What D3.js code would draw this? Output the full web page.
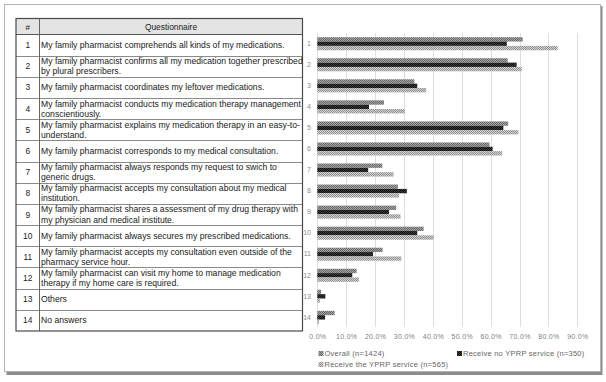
<!DOCTYPE html>
<html><head><meta charset="utf-8">
<script src="https://cdn.jsdelivr.net/npm/d3@7/dist/d3.min.js"></script>
<style>
html,body{margin:0;padding:0;background:#fff;}
svg{display:block;}
</style></head>
<body>
<script>
// ---- data ----
const categories = ["1","2","3","4","5","6","7","8","9","10","11","12","13","14"];
const questions = [
  "My family pharmacist comprehends all kinds of my medications.",
  "My family pharmacist confirms all my medication together prescribed\nby plural prescribers.",
  "My family pharmacist coordinates my leftover medications.",
  "My family pharmacist conducts my medication therapy management\nconscientiously.",
  "My family pharmacist explains my medication therapy in an easy-to-\nunderstand.",
  "My family pharmacist corresponds to my medical consultation.",
  "My family pharmacist always responds my request to swich to\ngeneric drugs.",
  "My family pharmacist accepts my consultation about my medical\ninstitution.",
  "My family pharmacist shares a assessment of my drug therapy with\nmy physician and medical institute.",
  "My family pharmacist always secures my prescribed medications.",
  "My family pharmacist accepts my consultation even outside of the\npharmacy service hour.",
  "My family pharmacist can visit my home to manage medication\ntherapy if my home care is required.",
  "Others",
  "No answers"
];
const tableHeaders = ["#", "Questionnaire"];
const seriesNames = ["Overall (n=1424)", "Receive no YPRP service (n=350)", "Receive the YPRP service (n=565)"];
const overall     = [71.1, 65.9, 33.6, 23.1, 66.1, 59.6, 22.5, 27.9, 27.3, 36.8, 22.6, 13.6, 1.3, 6.0];
const noService   = [65.6, 69.0, 34.6, 17.9, 64.4, 60.7, 17.6, 31.0, 24.8, 34.6, 19.3, 12.1, 2.8, 2.7];
const withService = [83.2, 70.8, 37.7, 30.3, 69.6, 64.0, 26.4, 28.3, 28.8, 40.3, 29.1, 14.4, 0.9, 0.6];
const xTicks = [0, 10, 20, 30, 40, 50, 60, 70, 80, 90];

const seriesData = [overall, noService, withService];

// ---- layout ----
const W = 606, H = 382;
const svg = d3.select("body").append("svg").attr("width", W).attr("height", H);

// patterns
const defs = svg.append("defs");
const pats = [
  {id:"p0", a:"#666666", b:"#a6a6a6"},
  {id:"p1", a:"#111111", b:"#3a3a3a"},
  {id:"p2", a:"#8e8e8e", b:"#d4d4d4"}
];
pats.forEach(p => {
  const pt = defs.append("pattern").attr("id", p.id).attr("patternUnits","userSpaceOnUse")
    .attr("width", 2).attr("height", 2);
  pt.append("rect").attr("width",2).attr("height",2).attr("fill",p.b);
  pt.append("rect").attr("width",1).attr("height",1).attr("fill",p.a);
  pt.append("rect").attr("x",1).attr("y",1).attr("width",1).attr("height",1).attr("fill",p.a);
});

// outer frame with shadow
svg.append("rect").attr("x",6.5).attr("y",6).attr("width",596).attr("height",369).attr("fill","#8c8c8c");
svg.append("rect").attr("x",4.5).attr("y",4.5).attr("width",596).attr("height",367)
  .attr("fill","#fff").attr("stroke","#b4b4b4").attr("stroke-width",1);

// ---- table ----
const tX0 = 16, tX1 = 302.5, tColX = 39.5, tY0 = 18.5, tHead = 34.5, tY1 = 331;
const rowY = d3.scaleBand().domain(categories).range([tHead, tY1]);

const tbl = svg.append("g");
tbl.append("rect").attr("x",tX0).attr("y",tY0).attr("width",tX1-tX0).attr("height",tHead-tY0)
  .attr("fill","#e4e4e4");
// row lines
tbl.selectAll("line.row").data(categories.slice(1)).join("line")
  .attr("x1",tX0).attr("x2",tX1)
  .attr("y1",d=>Math.round(rowY(d))+0.5).attr("y2",d=>Math.round(rowY(d))+0.5)
  .attr("stroke","#8a8a8a").attr("stroke-width",1);
tbl.append("line").attr("x1",tX0).attr("x2",tX1).attr("y1",tHead).attr("y2",tHead)
  .attr("stroke","#555").attr("stroke-width",1);
tbl.append("line").attr("x1",tColX).attr("x2",tColX).attr("y1",tY0).attr("y2",tY1)
  .attr("stroke","#666").attr("stroke-width",1);
tbl.append("rect").attr("x",tX0).attr("y",tY0).attr("width",tX1-tX0).attr("height",tY1-tY0)
  .attr("fill","none").attr("stroke","#4a4a4a").attr("stroke-width",1.2);

const tFont = "'Liberation Sans', Arial, sans-serif";
tbl.append("text").attr("x",(tX0+tColX)/2).attr("y",(tY0+tHead)/2+3)
  .attr("text-anchor","middle").attr("font-family",tFont).attr("font-size",8).attr("fill","#222").text(tableHeaders[0]);
tbl.append("text").attr("x",(tColX+tX1)/2).attr("y",(tY0+tHead)/2+3)
  .attr("text-anchor","middle").attr("font-family",tFont).attr("font-size",8.4).attr("fill","#222").text(tableHeaders[1]);

categories.forEach((c,i) => {
  const cy = rowY(c) + rowY.bandwidth()/2;
  tbl.append("text").attr("x",(tX0+tColX)/2).attr("y",cy+3)
    .attr("text-anchor","middle").attr("font-family",tFont).attr("font-size",8.4).attr("fill","#222").text(c);
  const lines = questions[i].split("\n");
  const lh = 10.2;
  const t = tbl.append("text").attr("font-family",tFont).attr("font-size",8.65).attr("fill","#1a1a1a");
  lines.forEach((ln,j) => {
    t.append("tspan").attr("x",tColX+1.5).attr("y", cy + 3 + (j - (lines.length-1)/2)*lh).text(ln);
  });
});

// ---- chart ----
const x = d3.scaleLinear().domain([0, 90]).range([317.3, 577.3]);
const y = d3.scaleBand().domain(categories).range([33.2, 327.9]).paddingInner(0.38).paddingOuter(0.19);
const ys = d3.scaleBand().domain([0,1,2]).range([0, y.bandwidth()]);

const chart = svg.append("g");
// gridlines
chart.selectAll("line.grid").data(xTicks).join("line")
  .attr("x1",d=>Math.round(x(d))+0.5).attr("x2",d=>Math.round(x(d))+0.5)
  .attr("y1",33).attr("y2",327).attr("stroke","#dedede").attr("stroke-width",1);

// bars
seriesData.forEach((vals, si) => {
  chart.append("g").selectAll("rect").data(vals).join("rect")
    .attr("x", x(0))
    .attr("y", (d,i) => y(categories[i]) + ys(si))
    .attr("width", d => x(d) - x(0))
    .attr("height", ys.bandwidth())
    .attr("fill", `url(#p${si})`);
});

const aFont = "'Liberation Sans', Arial, sans-serif";
// x axis
const xAxis = d3.axisBottom(x).tickValues(xTicks).tickSize(0).tickFormat(d => d.toFixed(1) + "%");
const gx = chart.append("g").attr("transform","translate(0,331)").call(xAxis);
gx.select(".domain").remove();
gx.selectAll("text").attr("font-family",aFont).attr("font-size",7).attr("fill","#7f7f7f").attr("letter-spacing",0.3);

// y axis labels
const yAxis = d3.axisLeft(y).tickSize(0).tickPadding(0);
const gy = chart.append("g").attr("transform","translate(311,0)").call(yAxis);
gy.select(".domain").remove();
gy.selectAll("text").attr("font-family",aFont).attr("font-size",7).attr("fill","#8a8a8a");

// legend
const legendPos = [[321,353.5],[459.5,353.5],[321,364.5]];
seriesNames.forEach((n,i) => {
  const [lx,ly] = legendPos[i];
  chart.append("rect").attr("x",lx-2.5).attr("y",ly-2.5).attr("width",5).attr("height",5).attr("fill",`url(#p${i})`);
  chart.append("text").attr("x",lx+3.5).attr("y",ly+2.6).attr("font-family",aFont).attr("font-size",7.5)
    .attr("fill","#666").attr("letter-spacing",0.25).text(n);
});
</script>
</body></html>
